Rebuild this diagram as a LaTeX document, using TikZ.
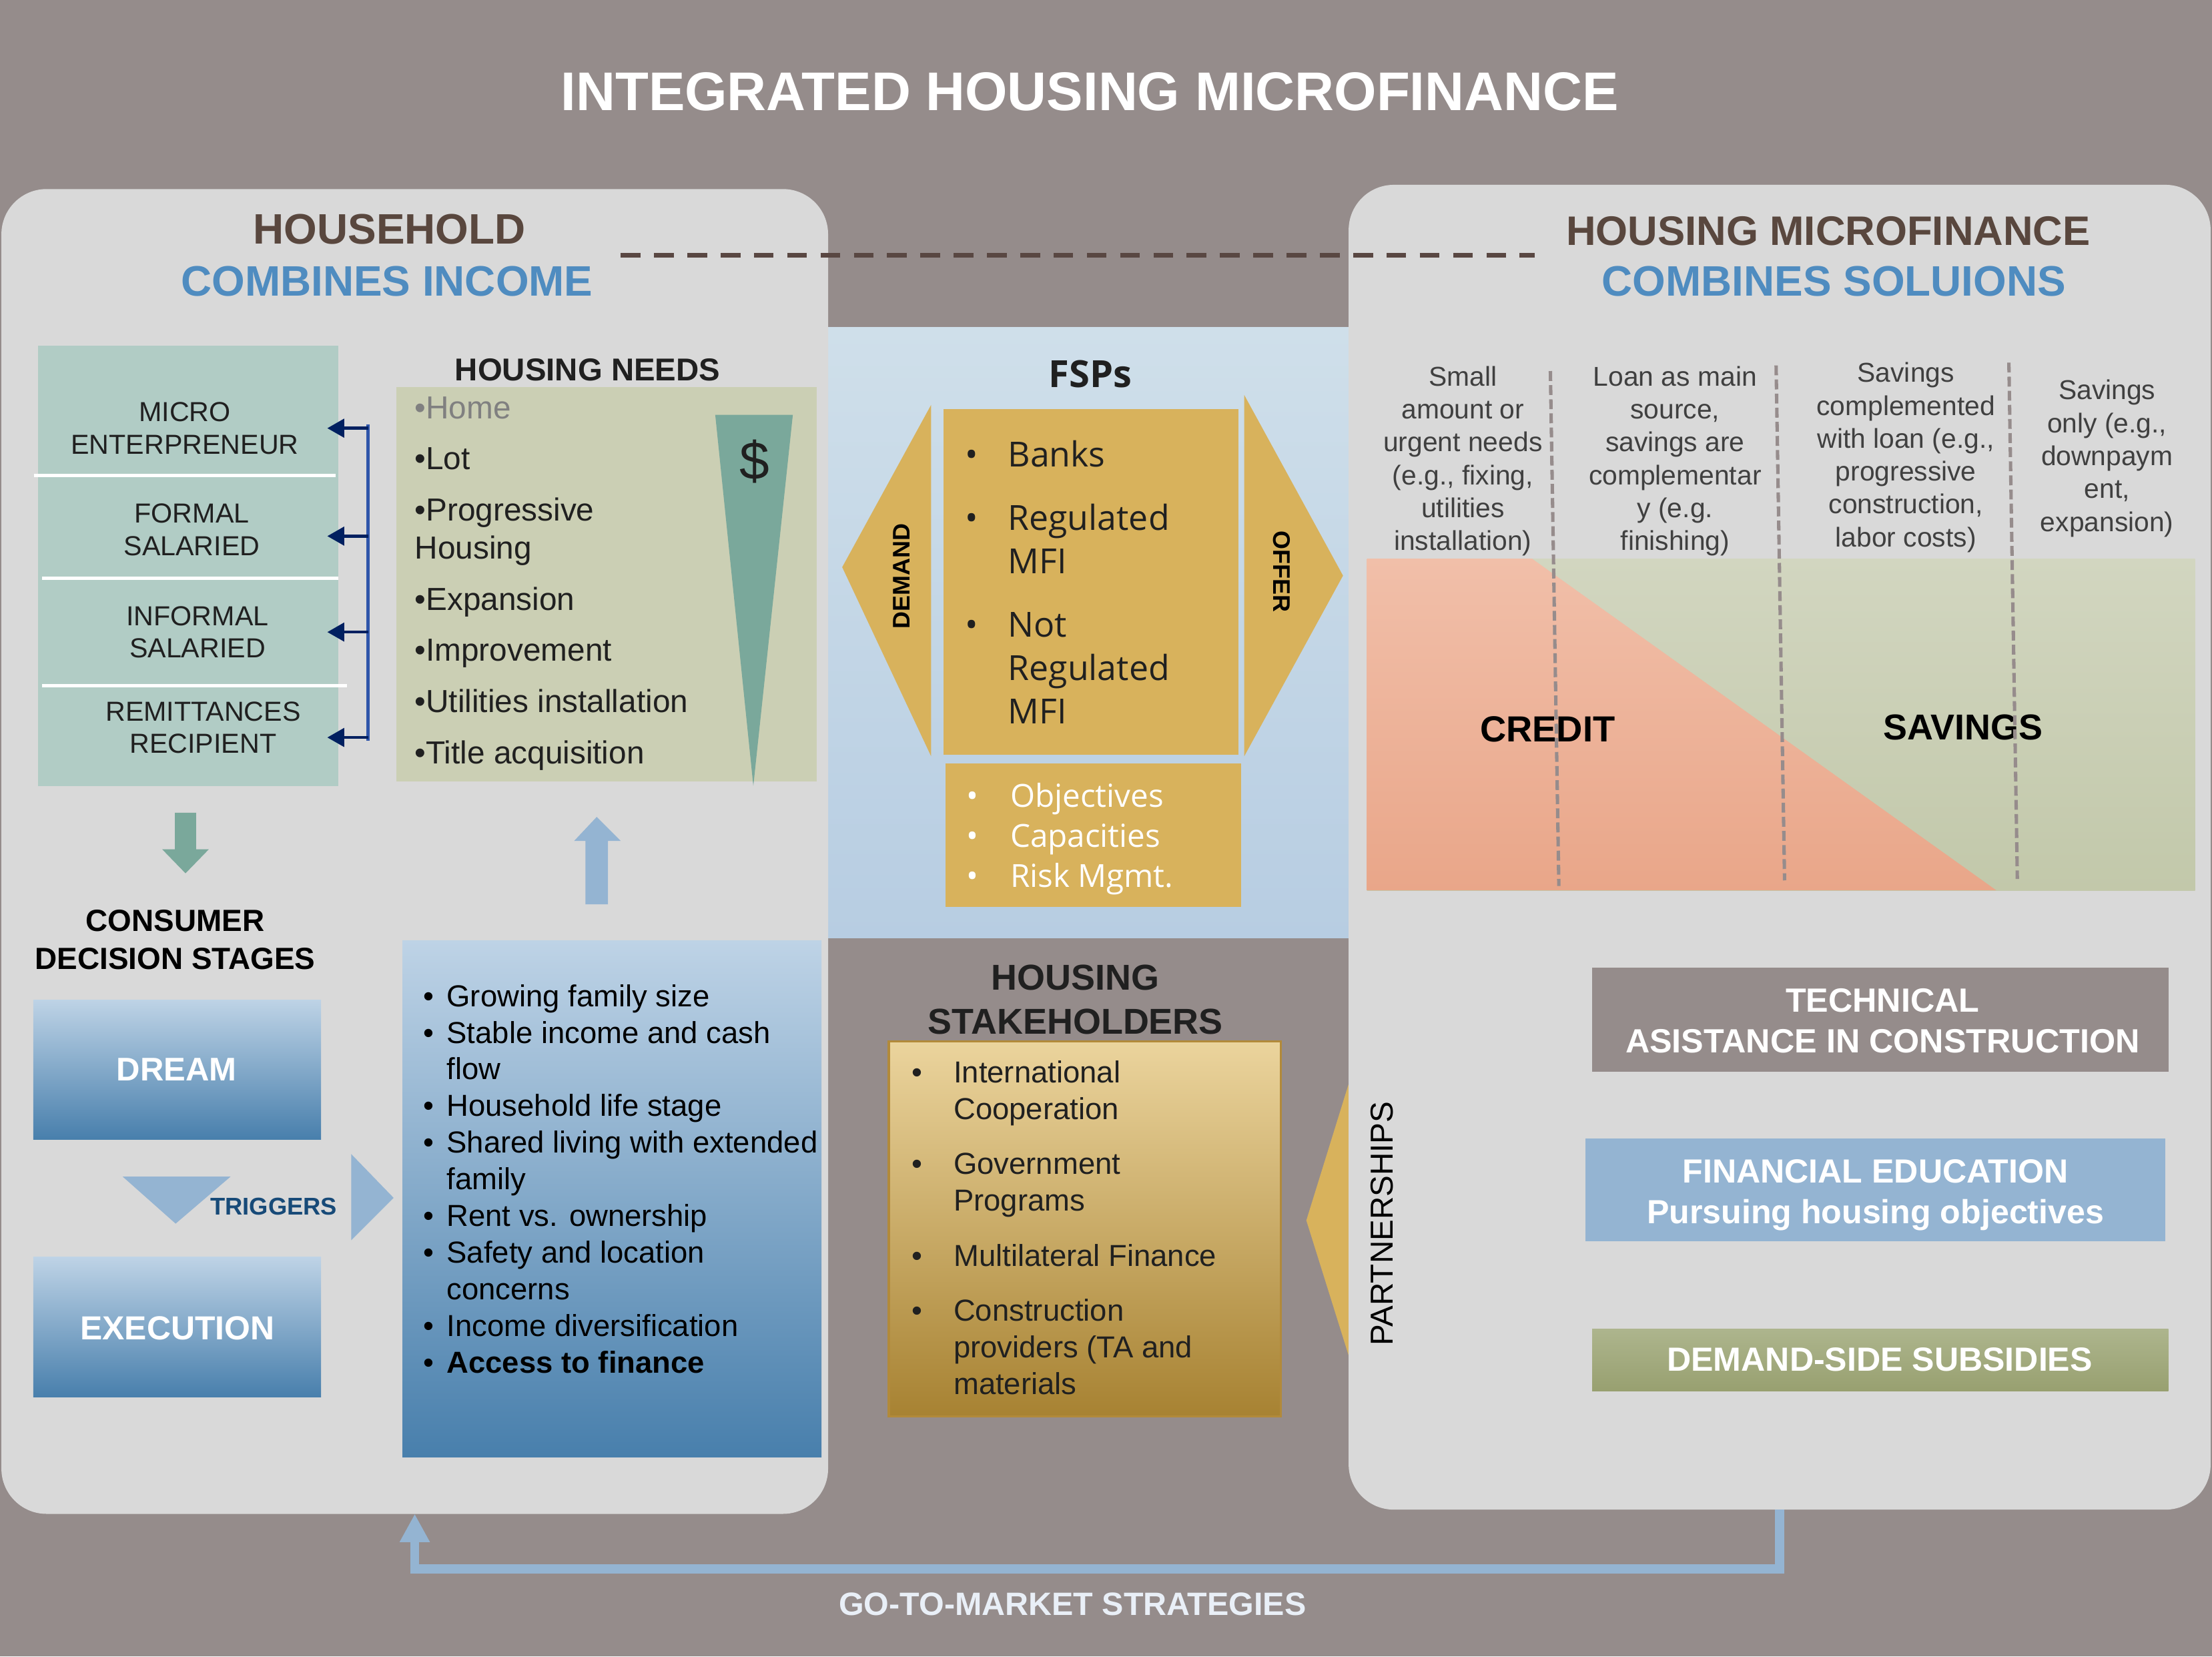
\documentclass[tikz,border=0pt]{standalone}
\usepackage{fontspec}
\setmainfont{Liberation Sans}
\newfontfamily\osans{Open Sans}
\usetikzlibrary{arrows.meta}
\definecolor{bgc}{RGB}{149,140,139}
\definecolor{panelc}{RGB}{217,217,217}
\definecolor{midtop}{RGB}{207,223,234}
\definecolor{midbot}{RGB}{183,205,226}
\definecolor{brownh}{RGB}{89,71,62}
\definecolor{blueh}{RGB}{79,140,192}
\definecolor{dashc}{RGB}{89,71,66}
\definecolor{incc}{RGB}{177,204,197}
\definecolor{needc}{RGB}{203,207,180}
\definecolor{tealc}{RGB}{122,168,155}
\definecolor{navyc}{RGB}{0,32,96}
\definecolor{brkc}{RGB}{47,85,170}
\definecolor{lblue}{RGB}{148,180,210}
\definecolor{gradtop}{RGB}{190,211,230}
\definecolor{gradbot}{RGB}{72,127,172}
\definecolor{trigc}{RGB}{23,74,120}
\definecolor{goldc}{RGB}{216,178,92}
\definecolor{stktop}{RGB}{235,212,157}
\definecolor{stkbot}{RGB}{167,130,50}
\definecolor{stkbord}{RGB}{178,138,58}
\definecolor{salmtop}{RGB}{241,191,169}
\definecolor{salmbot}{RGB}{233,166,137}
\definecolor{sagetop}{RGB}{210,214,192}
\definecolor{sagebot}{RGB}{194,200,170}
\definecolor{vdash}{RGB}{150,140,140}
\definecolor{coltxt}{RGB}{64,64,64}
\definecolor{subtop}{RGB}{173,181,141}
\definecolor{subbot}{RGB}{152,160,112}
\definecolor{gtmtxt}{RGB}{233,239,247}
\definecolor{darktxt}{RGB}{32,32,32}
\definecolor{homec}{RGB}{128,128,128}
\newcommand\fsz[2]{\fontsize{#1}{#2}\selectfont}
\newcommand\lbul[1]{\makebox[#1][l]{\textbullet}}
\begin{document}
\begin{tikzpicture}[x=1pt,y=-1pt,
  txt/.style={inner sep=0pt,outer sep=0pt},
  area/.style={inner sep=0pt,outer sep=0pt,anchor=north west,draw=none},
  listtxt/.style={txt,anchor=north west,align=left},
  coltext/.style={txt,anchor=north,align=center,text=coltxt,font={\fsz{19.3}{23.3}}},
  bracketarrow/.style={navyc,line width=2.2pt,-{Triangle[length=12pt,width=13pt]}},
  vdashline/.style={vdash,line width=2.4pt,dash pattern=on 7pt off 3pt},
  gtmline/.style={lblue,line width=6.5pt,line join=miter,-{Triangle[length=20pt,width=20pt]}}
  ]
\useasboundingbox (0,0) rectangle (1568,1174);
\fill[bgc] (0,0) rectangle (1568,1174);
\shade[top color=midtop,bottom color=midbot] (586,232) rectangle (956,665);
% partnerships arrow
\fill[goldc] (957,765) -- (926,865) -- (957,964) -- cycle;
% panels
\node[area,fill=panelc,rounded corners=32pt,minimum width=586pt,minimum height=939pt] (lpanel) at (1,134) {};
\node[area,fill=panelc,rounded corners=32pt,minimum width=611pt,minimum height=939pt] (rpanel) at (956,131) {};
% title
\node[txt,anchor=base,text=white,font={\fsz{38.6}{44}\bfseries}] (title) at (772.5,78.4) {INTEGRATED HOUSING MICROFINANCE};
% headings
\coordinate (dashL) at (440,181);
\coordinate (dashR) at (1088,181);
\draw[dashc,line width=3.3pt,dash pattern=on 14pt off 9.6pt] (dashL) -- (dashR);
\node[txt,anchor=base,text=brownh,font={\fsz{30.2}{36}\bfseries}] (hh) at (276,173) {HOUSEHOLD};
\node[txt,anchor=base,text=blueh,font={\fsz{30.2}{36}\bfseries}] (hhsub) at (274.3,210) {COMBINES INCOME};
\node[txt,anchor=base,text=brownh,font={\fsz{29.2}{36}\bfseries}] (hm) at (1296,174) {HOUSING MICROFINANCE};
\node[txt,anchor=base,text=blueh,font={\fsz{30.2}{36}\bfseries}] (hmsub) at (1300,210) {COMBINES SOLUIONS};

% income sources
\node[area,fill=incc,minimum width=213pt,minimum height=312pt] (inc) at (27,245) {};
\draw[white,line width=2.5pt] (24,337) -- (238,337);
\draw[white,line width=2.5pt] (30,410) -- (240,410);
\draw[white,line width=2.5pt] (30,486) -- (246,486);
\node[txt,anchor=north,align=center,text=darktxt,font={\fsz{19.5}{23}}] (inc1) at (131,282.6) {\strut MICRO\\ENTERPRENEUR};
\node[txt,anchor=north,align=center,text=darktxt,font={\fsz{19.5}{23}}] (inc2) at (136,354.5) {\strut FORMAL\\SALARIED};
\node[txt,anchor=north,align=center,text=darktxt,font={\fsz{19.5}{23}}] (inc3) at (140,427.2) {\strut INFORMAL\\SALARIED};
\node[txt,anchor=north,align=center,text=darktxt,font={\fsz{19.5}{23}}] (inc4) at (144,494.9) {\strut REMITTANCES\\RECIPIENT};
% bracket
\coordinate (brT) at (261,301);
\coordinate (brB) at (261,525);
\draw[brkc,line width=2.2pt] (brT) -- (brB);
\coordinate (b1) at (261,303.5); \coordinate (t1) at (232,303.5);
\coordinate (b2) at (261,380); \coordinate (t2) at (232,380);
\coordinate (b3) at (261,448); \coordinate (t3) at (232,448);
\coordinate (b4) at (261,522.7); \coordinate (t4) at (232,522.7);
\draw[bracketarrow] (b1) -- (t1);
\draw[bracketarrow] (b2) -- (t2);
\draw[bracketarrow] (b3) -- (t3);
\draw[bracketarrow] (b4) -- (t4);

% housing needs
\node[txt,anchor=base,font={\fsz{22.4}{26}\bfseries},text=darktxt] (needsT) at (416.5,270) {HOUSING NEEDS};
\node[area,fill=needc,minimum width=298pt,minimum height=279.6pt] (needs) at (281,274.4) {};
\fill[tealc] (507,294) -- (562,294) -- (534,557) -- cycle;
\node[txt,anchor=base,font={\fsz{38}{40}},text=darktxt] (dollar) at (535,340) {\$};
\node[listtxt,font={\fsz{22.6}{27.2}},text=darktxt] (needlist) at (294,277.7) {\strut\textcolor{homec}{\textbullet Home}\\[9pt]\textbullet Lot\\[9pt]\textbullet Progressive\\Housing\\[9pt]\textbullet Expansion\\[9pt]\textbullet Improvement\\[9pt]\textbullet Utilities installation\\[9pt]\textbullet Title acquisition};

% block arrows
\fill[tealc] (124,576) -- (139,576) -- (139,602) -- (148,602) -- (131.5,619) -- (115,602) -- (124,602) -- cycle;
\fill[lblue] (415,641) -- (431,641) -- (431,596) -- (440,596) -- (423,579) -- (407,596) -- (415,596) -- cycle;

% consumer decision stages
\node[txt,anchor=north,align=center,font={\fsz{21.7}{27}\bfseries},text=black] (cds) at (124.2,641.1) {\strut CONSUMER\\DECISION STAGES};
\node[area,top color=gradtop,bottom color=gradbot,minimum width=204pt,minimum height=99pt] (dreambox) at (23.6,708.6) {};
\node[txt,anchor=base,text=white,font={\fsz{23.2}{28}\bfseries}] (dream) at (125.2,766.2) {DREAM};
\node[area,top color=gradtop,bottom color=gradbot,minimum width=204pt,minimum height=99.3pt] (execbox) at (23.6,891) {};
\node[txt,anchor=base,text=white,font={\fsz{23.6}{28}\bfseries}] (exec) at (125.7,949.5) {EXECUTION};
\fill[lblue] (87,834) -- (163.4,834) -- (124.5,867.3) -- cycle;
\node[txt,anchor=base,text=trigc,font={\fsz{17.2}{20}\bfseries}] (trig) at (194,861.3) {TRIGGERS};
\fill[lblue] (249,818) -- (279,849) -- (249,879) -- cycle;
\node[area,top color=gradtop,bottom color=gradbot,minimum width=297pt,minimum height=366.5pt] (factbox) at (285.3,666.5) {};
\node[listtxt,font={\fsz{21.5}{26}},text=black] (factors) at (300.2,695.1) {\strut\lbul{16.5pt}Growing family size\\ \lbul{16.5pt}Stable income and cash\\ \hspace*{16.5pt}flow\\ \lbul{16.5pt}Household life stage\\ \lbul{16.5pt}Shared living with extended\\ \hspace*{16.5pt}family\\ \lbul{16.5pt}Rent vs. ownership\\ \lbul{16.5pt}Safety and location\\ \hspace*{16.5pt}concerns\\ \lbul{16.5pt}Income diversification\\ \lbul{16.5pt}\textbf{Access to finance}};

% FSPs
\node[txt,anchor=base,font={\osans\fsz{26.5}{30}\bfseries},text=darktxt] (fsps) at (773,274.6) {FSPs};
\fill[goldc] (660,287) -- (597,402) -- (660,536) -- cycle;
\fill[goldc] (882,280) -- (952,408) -- (882,536) -- cycle;
\node[txt,rotate=90,font={\fsz{17}{20}\bfseries},text=black] (demand) at (639,408.3) {DEMAND};
\node[txt,rotate=-90,font={\fsz{17}{20}\bfseries},text=black] (offer) at (908.7,405) {OFFER};
\node[area,fill=goldc,minimum width=209pt,minimum height=245pt] (fspbox) at (669,290) {};
\node[area,fill=goldc,minimum width=210pt,minimum height=102pt] (fspcap) at (670,541) {};
\node[listtxt,font={\osans\fsz{24.5}{30.8}},text=darktxt] (fsplist) at (684,309.4) {\strut\lbul{30.5pt}Banks\\[14pt]\lbul{30.5pt}Regulated\\ \hspace*{30.5pt}MFI\\[14pt]\lbul{30.5pt}Not\\ \hspace*{30.5pt}Regulated\\ \hspace*{30.5pt}MFI};
\node[listtxt,font={\osans\fsz{22.5}{28.5}},text=white] (fspobj) at (685.3,552) {\strut\lbul{30.9pt}Objectives\\ \lbul{30.9pt}Capacities\\ \lbul{30.9pt}Risk Mgmt.};

% stakeholders
\node[txt,anchor=north,align=center,font={\fsz{25.5}{31.2}\bfseries},text=darktxt] (stkT) at (762.3,680) {\strut HOUSING\\STAKEHOLDERS};
\node[area,top color=stktop,bottom color=stkbot,draw=stkbord,line width=1.5pt,minimum width=278pt,minimum height=266pt] (stkbox) at (630,738) {};
\node[listtxt,font={\fsz{21.5}{26}},text=darktxt] (stklist) at (646.2,749.2) {\strut\lbul{29.8pt}International\\ \hspace*{29.8pt}Cooperation\\[13pt]\lbul{29.8pt}Government\\ \hspace*{29.8pt}Programs\\[13pt]\lbul{29.8pt}Multilateral Finance\\[13pt]\lbul{29.8pt}Construction\\ \hspace*{29.8pt}providers (TA and\\ \hspace*{29.8pt}materials};
\node[txt,rotate=90,font={\fsz{22.5}{26}},text=black] (partn) at (979.5,867.3) {PARTNERSHIPS};

% right panel columns
\node[coltext] (col1) at (1037,257.2) {\strut Small\\amount or\\urgent needs\\(e.g., fixing,\\utilities\\installation)};
\node[coltext] (col2) at (1187.4,257.2) {\strut Loan as main\\source,\\savings are\\complementar\\y (e.g.\\finishing)};
\node[coltext] (col3) at (1351,254.7) {\strut Savings\\complemented\\with loan (e.g.,\\progressive\\construction,\\labor costs)};
\node[coltext] (col4) at (1493.6,267) {\strut Savings\\only (e.g.,\\downpaym\\ent,\\expansion)};
% chart
\node[area,top color=sagetop,bottom color=sagebot,minimum width=587pt,minimum height=235pt] (chart) at (969,396) {};
\shade[top color=salmtop,bottom color=salmbot] (969,396) -- (1086,396) -- (1415,631) -- (969,631) -- cycle;
\node[txt,anchor=base,font={\fsz{25.7}{30}\bfseries},text=black] (credit) at (1097,525.6) {CREDIT};
\node[txt,anchor=base,font={\fsz{25.5}{30}\bfseries},text=black] (savings) at (1391.7,524.4) {SAVINGS};
\draw[vdashline] (1099,263) -- (1105,628);
\draw[vdashline] (1259,259) -- (1265,624);
\draw[vdashline] (1424,257) -- (1430,623);

% solution boxes
\node[area,fill=bgc,minimum width=408.4pt,minimum height=73.5pt] (tabox) at (1128.6,686) {};
\node[txt,anchor=north,align=center,text=white,font={\fsz{23.8}{28.8}\bfseries}] (tatext) at (1334.5,697) {\strut TECHNICAL\\ASISTANCE IN CONSTRUCTION};
\node[area,fill=lblue,minimum width=411pt,minimum height=73pt] (febox) at (1124,807) {};
\node[txt,anchor=north,align=center,text=white,font={\fsz{23.7}{29.1}\bfseries}] (fetext) at (1329.4,817.8) {\strut FINANCIAL EDUCATION\\Pursuing housing objectives};
\node[area,top color=subtop,bottom color=subbot,minimum width=408.4pt,minimum height=44pt] (subbox) at (1128.6,942) {};
\node[txt,anchor=base,text=white,font={\fsz{23.7}{28}\bfseries}] (subtext) at (1332.5,971.8) {DEMAND-SIDE SUBSIDIES};

% go-to-market connector
\draw[gtmline] (rpanel.south) -- ++(0,42) -| (lpanel.south);
\node[txt,anchor=base,text=gtmtxt,font={\fsz{22.9}{26}\bfseries}] (gtm) at (760.3,1144.7) {GO-TO-MARKET STRATEGIES};
\end{tikzpicture}
\end{document}
